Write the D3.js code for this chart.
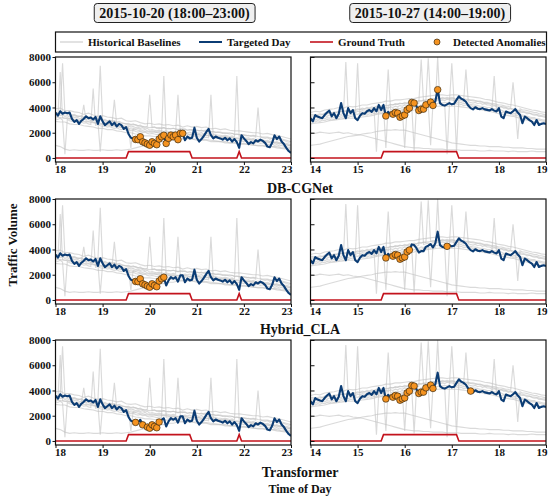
<!DOCTYPE html>
<html><head><meta charset="utf-8">
<script src="https://cdn.jsdelivr.net/npm/d3@7"></script>
<style>
body{margin:0;background:#fff}
svg text{font-family:"Liberation Serif","Times New Roman",serif;font-weight:bold;fill:#111}
</style>
</head><body>
<svg id="c" width="550" height="500"></svg>
<script>
// ---------------- DATA ----------------
const methods = ["DB-CGNet", "Hybrid_CLA", "Transformer"];
const dayTitles = ["2015-10-20 (18:00\u201323:00)", "2015-10-27 (14:00\u201319:00)"];
const leftHours = [18, 19, 20, 21, 22, 23];
const rightHours = [14, 15, 16, 17, 18, 19];
const yTicks = [0, 2000, 4000, 6000, 8000];
const legendLabels = ["Historical Baselines", "Targeted Day", "Ground Truth", "Detected Anomalies"];

// Targeted day, 3-minute samples (101 values over 5 hours)
const leftTarget = [
 3600,3350,3700,3500,3600,3550,3600,3100,2850,3000,
 2700,2950,3100,3300,3150,3200,3050,3250,2700,3300,
 2900,2600,2750,2900,2600,2800,2500,2700,2600,2300,
 2450,1900,1600,1550,1470,1450,1680,1280,1200,1100,
 1010,1280,1150,1050,1500,1680,1800,1150,1550,1810,
 1680,1810,1450,1950,1950,1400,1700,1550,1600,2400,
 1600,1300,1500,1750,2050,2300,1800,1550,1700,1600,
 1550,1450,1600,1400,1550,1300,1500,1250,800,1800,
 1550,1350,1100,1250,1150,1400,1300,1450,1350,1200,
 900,850,1200,1800,1500,1700,1300,1100,800,550,
 400];
const rightTarget = [
 3150,2900,3400,3280,3200,3150,3400,3600,3750,3300,
 3550,3150,3500,4350,3550,3150,3950,3550,3800,3150,
 3000,3350,3550,3500,3700,3800,3650,3950,3700,4200,
 3800,4200,3330,3650,3450,3470,3600,3550,3230,3330,
 3410,3810,3950,4400,4350,4100,3760,3870,3870,4210,
 4300,4430,4160,4500,5410,4350,4200,4150,4250,4350,
 4250,4300,4600,4880,4700,4600,4450,4150,3950,3850,
 4020,3900,3870,3950,3850,3810,3760,3870,3750,3680,
 3950,3280,3150,3680,3600,3550,3700,3870,3600,3410,
 2750,3280,3150,3000,2880,2610,3010,2610,2700,2750,
 2700];

// Ground truth: [hour, value] breakpoints
const leftTruth = [[18,0],[19.5,0],[19.55,500],[20.85,500],[20.9,0],[21.85,0],[21.9,500],[21.95,0],[23,0]];
const rightTruth = [[14,0],[15.5,0],[15.55,500],[17.1,500],[17.15,0],[19,0]];

// Detected anomalies: indices into the targeted-day samples, one list per method row
const leftDetected = [
 [34,35,36,37,38,39,40,41,42,43,44,45,46,47,48,49,50,51,52,53,54],
 [34,35,36,37,38,39,40,41,42,43,44,45,46],
 [34,37,39,40,41,42,43,44]
];
const rightDetected = [
 [32,35,36,37,38,39,40,41,42,43,44,46,47,48,49,51,52,54],
 [32,35,36,37,38,39,40,41,42,58],
 [32,35,36,37,38,39,40,41,42,43,44,46,47,48,49,51,52,68]
];

// Historical baselines: smooth ones at 6-minute samples (51 values),
// spiky ones at 3-minute samples (101 values)
const leftBaselines = [
 [3900,3950,3750,3750,3650,3600,3450,3550,3400,3300,
  3350,3250,3200,3100,3150,2950,2900,2950,2800,2700,
  2750,2650,2700,2600,2650,2550,2600,2450,2550,2450,
  2500,2400,2450,2300,2350,2250,2300,2200,2150,2150,
  2100,2050,2000,2000,1900,1950,1850,1800,1700,1600,1500],
 [3600,3500,3550,3400,3350,3300,3200,3250,3100,3050,
  3000,2900,2950,2800,2750,2700,2600,2650,2500,2450,
  2400,2450,2350,2400,2300,2350,2250,2300,2200,2250,
  2200,2150,2200,2100,2050,2050,1950,2000,1900,1850,
  1850,1750,1800,1700,1650,1650,1550,1600,1500,1400,1300],
 [3250,3200,3150,3100,3000,2950,2900,2850,2800,2700,
  2650,2600,2550,2500,2400,2350,2300,2250,2150,2100,
  2050,2050,2000,2000,1950,1950,1950,1900,1900,1850,
  1850,1800,1800,1750,1700,1650,1650,1600,1550,1500,
  1450,1450,1400,1350,1300,1250,1250,1200,1150,1050,950],
 [2900,2850,2850,2700,2650,2650,2550,2500,2450,2350,
  2350,2250,2250,2150,2100,2000,2000,1900,1850,1750,
  1750,1700,1700,1650,1650,1600,1600,1550,1550,1500,
  1500,1450,1450,1400,1350,1300,1300,1200,1200,1100,
  1150,1050,1050,950,950,900,900,800,750,700,600],
 [1000,900,700,600,650,600,600,650,600,600,
  650,600,600,650,600,650,700,800,900,1000,
  1100,1200,1300,1300,1400,1400,1500,1500,1500,1500,
  1400,1400,1400,1300,1300,1300,1200,1200,1200,1100,
  1100,1100,1000,1000,1000,900,900,900,800,800,700],
 [3600,3550,3650,7500,3500,3550,3450,3400,3450,3350,
  3300,3350,3250,3300,3200,3250,3150,3100,3150,7300,
  3000,3050,2950,3000,2900,2950,2850,2900,2800,2750,
  2700,2750,2650,2700,2600,2550,2600,2500,2450,2500,
  5000,2400,2450,2350,2400,2350,2400,2300,2350,2300,
  2350,2300,2250,2300,2250,2300,2200,2250,2200,2250,
  2200,2150,2200,2100,2150,2100,2050,2100,2000,2050,
  2000,1950,2000,1950,1900,1950,1850,1900,1850,1800,
  1800,1750,1800,1700,1750,1650,4000,1650,1600,1550,
  1600,1500,1550,1450,1500,1400,1350,1400,1300,1250,1300],
 [3100,3050,3150,3000,300,3050,2950,2900,2950,2850,
  2800,2850,2750,2800,2700,2650,5500,2600,2650,2550,
  2500,2550,2450,2500,2400,2350,2400,2300,2250,2300,
  2200,2250,2150,2200,2100,2050,2100,2000,2050,1950,
  1900,1950,1900,1850,1900,1850,6500,1850,1800,1850,
  1800,1850,1750,1800,1750,1800,1700,1750,1700,1750,
  1700,1650,1700,1600,1650,1600,5000,1600,1550,1550,
  1500,1550,1450,1500,1450,1400,1450,1350,1400,1350,
  1300,1350,1250,1300,1250,1200,1250,1150,1200,1100,
  1100,1050,1100,1000,1050,950,1000,900,900,850,800],
 [3400,3450,3350,3400,3300,3350,3250,3300,3200,3250,
  3150,3100,3150,3050,3100,3000,2950,3000,2900,500,
  2800,2850,2750,2800,2700,4600,2650,2700,2600,2550,
  2500,2550,2450,2500,2400,2450,2350,2400,2300,2350,
  2200,2250,2200,2150,2200,2150,2100,2150,2100,2050,
  2100,2050,5000,2050,2000,2050,2000,2050,1950,2000,
  2000,1950,2000,1900,1950,1900,1850,1900,1850,1800,
  1800,1750,1800,1750,1700,1750,1650,6500,1650,1600,
  1600,1550,1600,1500,1550,1450,1500,1400,1450,1350,
  1400,1300,1350,1250,1300,1200,1250,1150,1150,1100,1050],
 [3300,3250,6800,3200,3150,3200,3100,3150,3050,3100,
  3000,3050,4200,2950,2900,2950,2850,2800,2850,2750,
  2700,2750,2650,2700,2600,2550,2600,2500,2450,2500,
  2400,2450,800,2350,2300,2350,2250,2200,2250,2150,
  2100,2150,2100,2050,2100,2050,2000,2050,2000,1950,
  2000,1950,1900,1950,1900,1950,1900,1850,1900,1850,
  1900,1850,1800,1850,1800,1750,1800,1700,1750,1700,
  1700,1650,1700,1650,1600,1650,1550,1600,1550,1500,
  1500,1450,1500,1400,1450,1350,1400,1300,1350,1250,
  1300,1200,1250,1150,1200,1100,1150,1050,1050,1000,950]
];
const rightBaselines = [
 [3600,3700,3650,3800,3850,3900,4000,3950,4100,4050,
  4100,4200,4200,4300,4350,4400,4500,4500,4600,4600,
  4650,4700,4700,4800,4850,4900,4950,5000,5000,4950,
  5000,5000,4950,4900,4850,4800,4750,4650,4600,4500,
  4400,4350,4250,4200,4100,4000,3900,3800,3750,3650,3600],
 [3300,3350,3400,3450,3550,3600,3650,3700,3750,3750,
  3800,3850,3900,3950,4050,4100,4150,4200,4250,4300,
  4300,4350,4400,4500,4550,4600,4650,4700,4700,4700,
  4700,4700,4650,4600,4550,4500,4450,4350,4300,4200,
  4100,4050,3950,3900,3800,3700,3600,3500,3450,3350,3300],
 [2700,2750,2800,2850,2950,3000,3050,3100,3150,3150,
  3200,3250,3300,3350,3450,3500,3550,3600,3650,3700,
  3700,3750,3800,3900,3950,4000,4050,4100,4100,4100,
  4100,4100,4050,4000,3950,3900,3850,3750,3700,3600,
  3500,3450,3350,3300,3200,3100,3000,2900,2850,2750,2700],
 [1000,1050,1100,1200,1300,1400,1500,1600,1700,1750,
  1800,1900,1950,2000,2100,2150,2200,2200,2250,2200,
  2200,2100,2000,1900,1800,1700,1600,1500,1400,1300,
  1200,1150,1100,1050,1000,1000,950,950,900,900,
  900,850,850,800,800,800,750,750,700,700,700],
 [2000,1950,2050,2000,1950,2000,2050,1950,2000,1900,
  1850,1800,1700,1600,1500,1400,1300,1200,1100,1000,
  900,850,800,800,750,750,700,700,700,650,
  650,650,600,600,600,600,550,550,600,550,
  550,550,500,550,500,500,500,550,500,500,500],
 [3200,3150,3250,3200,3300,3250,3350,3300,3400,3350,
  3450,3400,3500,3450,3550,7600,3600,3550,3650,3600,
  3700,3650,3750,3700,3800,3750,3850,3800,500,3850,
  3950,3900,4000,3950,4050,4000,4100,4050,4150,4100,
  4200,4150,4250,4200,4300,4250,4350,7800,4400,4450,
  4500,4450,4550,4500,4600,4550,4600,4550,4650,4600,
  4600,4550,4600,4500,4550,4450,7000,4450,4400,4350,
  4400,4300,4350,4250,4300,4200,4200,4100,4150,4050,
  4000,4050,3950,3950,3850,3900,3800,3750,3750,3650,
  3600,3600,3500,3550,3450,3400,3400,3300,3300,3250,3200],
 [2900,2950,2850,2950,2900,3000,2950,3050,3000,3100,
  3050,3150,3100,3200,3150,3250,3200,3300,3250,3350,
  7500,3400,3350,3450,3400,3500,3450,3550,3500,3600,
  3550,3650,3600,3700,3650,3750,3700,3800,3750,3850,
  800,3900,3950,3900,4000,3950,4050,4000,4100,4050,
  4150,4100,4200,4150,8000,4200,4250,4200,300,4250,
  4300,4250,4300,4200,4250,4150,4200,4100,4150,4050,
  4100,4000,4000,3950,3900,3900,3800,3800,6500,3700,
  3700,3600,3650,3550,3500,3500,3400,3400,3350,3300,
  3300,3200,3250,3150,3100,3100,3000,3000,2950,2900,2900],
 [3400,3450,3350,3450,3500,3450,3550,3500,3600,3550,
  3650,3600,3700,3650,3750,3700,3800,3750,3850,3800,
  3900,3850,3950,3900,4000,3950,4050,4000,4100,4050,
  4150,4100,800,4150,4250,4200,4300,4250,4350,4300,
  4400,4350,4450,4400,4500,4450,4550,4500,4600,4550,
  7900,4650,4700,4650,4750,4700,4800,4750,4800,4750,
  4800,4750,500,4750,4700,4700,4650,4650,4600,4600,
  4550,4500,4500,4450,4400,4400,4350,4300,4300,4250,
  4200,4200,4150,4100,4100,4000,6000,3950,1500,3900,
  3800,3800,3750,3700,3650,3600,3600,3500,3500,3450,3400],
 [3000,3050,3000,3100,3050,3150,3100,3200,3150,3250,
  3200,3300,3250,3350,3300,3400,3350,3450,3400,3500,
  3450,3550,3500,3600,3550,3650,3600,3700,3650,3750,
  3700,3800,3750,7000,3800,3900,3850,3950,3900,4000,
  3950,4050,4000,4100,600,4150,4100,4200,4150,4250,
  4250,1000,4300,4350,4300,4400,4350,4400,4350,4450,
  7500,4400,4450,4350,4400,4300,4350,4250,4250,4200,
  4200,4150,4100,4100,4050,4000,4000,3950,3900,3850,
  3800,3800,3700,3700,3650,3600,3550,3500,3500,3400,
  3400,3350,3300,3250,3200,3200,3100,3100,3050,3000,3000]
];

// ---------------- DRAW ----------------
const C = {base:"#c2c2c2", navy:"#0b3c74", red:"#c3131d", dot:"#f59320", dotStroke:"#3b2a10"};
const svg = d3.select("#c");
const colX = [55.5, 310.5], pw = 235.5;
const rowY = [57, 199, 340], ph = 105;
const days = [
  {hours:leftHours, target:leftTarget, truth:leftTruth, base:leftBaselines, det:leftDetected},
  {hours:rightHours, target:rightTarget, truth:rightTruth, base:rightBaselines, det:rightDetected}
];
const defs = svg.append("defs");

function styleTicks(sel) {
  sel.select(".domain").remove();
  sel.selectAll("text").attr("font-size",11).style("font-family","'Liberation Serif',serif").style("font-weight","bold");
  sel.selectAll("line").attr("stroke","#111");
}

methods.forEach((m, r) => {
  days.forEach((d, c) => {
    const x = d3.scaleLinear().domain([d.hours[0], d.hours[d.hours.length-1]]).range([colX[c], colX[c]+pw]);
    const y = d3.scaleLinear().domain([-320, 8000]).range([rowY[r]+ph, rowY[r]]);
    const id = "clip"+r+c;
    defs.append("clipPath").attr("id", id).append("rect")
      .attr("x", colX[c]).attr("y", rowY[r]).attr("width", pw).attr("height", ph);
    const g = svg.append("g");
    const inner = g.append("g").attr("clip-path", `url(#${id})`);
    const tT = d3.scaleLinear().domain([0, d.target.length-1]).range(x.domain());
    inner.selectAll("path.b").data(d.base).join("path").attr("class","b")
      .attr("d", arr => {
        const tb = d3.scaleLinear().domain([0, arr.length-1]).range(x.domain());
        return d3.line().x((v,i)=>x(tb(i))).y(v=>y(v))(arr);
      })
      .attr("fill","none").attr("stroke",C.base).attr("stroke-width",1.15).attr("stroke-opacity",0.6);
    inner.append("path").datum(d.truth)
      .attr("d", d3.line().x(p=>x(p[0])).y(p=>y(p[1])))
      .attr("fill","none").attr("stroke",C.red).attr("stroke-width",1.6);
    inner.append("path").datum(d.target)
      .attr("d", d3.line().x((v,i)=>x(tT(i))).y(v=>y(v)))
      .attr("fill","none").attr("stroke",C.navy).attr("stroke-width",2.1).attr("stroke-linejoin","round");
    g.selectAll("circle").data(d.det[r]).join("circle")
      .attr("cx", i=>x(tT(i))).attr("cy", i=>y(d.target[i])).attr("r",3.3)
      .attr("fill",C.dot).attr("stroke",C.dotStroke).attr("stroke-width",0.7);
    g.append("rect").attr("x",colX[c]).attr("y",rowY[r]).attr("width",pw).attr("height",ph)
      .attr("fill","none").attr("stroke","#111").attr("stroke-width",1.2);
    // x axis
    const xa = g.append("g").attr("transform",`translate(0,${rowY[r]+ph})`)
      .call(d3.axisBottom(x).tickValues(d.hours).tickFormat(d3.format("d")).tickSize(3).tickPadding(0.5));
    styleTicks(xa);
    const h0 = d.hours[0], h1 = d.hours[d.hours.length-1];
    xa.selectAll(".tick text")
      .attr("text-anchor", v => v === h0 ? "start" : v === h1 ? "end" : "middle")
      .attr("x", v => v === h0 ? -1 : v === h1 ? 1 : 0);
    // y axis
    const ya = g.append("g").attr("transform",`translate(${colX[c]},0)`);
    if (c === 0) {
      ya.call(d3.axisLeft(y).tickValues(yTicks).tickFormat(d3.format("d")).tickSize(3).tickPadding(1.5));
    } else {
      ya.call(d3.axisRight(y).tickValues(yTicks).tickFormat("").tickSize(4));
    }
    styleTicks(ya);
  });
  // method label under each row
  svg.append("text").attr("x",300).attr("y", r < 2 ? rowY[r+1]-11 : 472)
    .attr("dy","0.35em").attr("text-anchor","middle").attr("font-size",14).text(m);
});

// Column headers
const headerCx = [174.5, 430];
dayTitles.forEach((t, c) => {
  const gt = svg.append("g");
  const txt = gt.append("text").attr("x",headerCx[c]).attr("y",13).attr("dy","0.35em")
    .attr("text-anchor","middle").attr("font-size",14).text(t);
  const bb = txt.node().getBBox();
  gt.insert("rect","text").attr("x",bb.x-5).attr("y",3.5).attr("width",bb.width+10).attr("height",19)
    .attr("rx",3).attr("fill","#efefef").attr("stroke","#222").attr("stroke-width",1);
});

// Legend
const lg = svg.append("g");
lg.append("rect").attr("x",55.5).attr("y",32).attr("width",491).attr("height",20)
  .attr("fill","#fff").attr("stroke","#111").attr("stroke-width",1.2);
const ly = 42;
const legendItems = [
  {x:60, kind:"line", color:"#cfcfcf", w:1.2},
  {x:199, kind:"line", color:C.navy, w:2},
  {x:310, kind:"line", color:C.red, w:1.6},
  {x:437, kind:"dot"}
];
legendItems.forEach((it, i) => {
  if (it.kind === "line") {
    lg.append("line").attr("x1",it.x).attr("x2",it.x+23).attr("y1",ly).attr("y2",ly)
      .attr("stroke",it.color).attr("stroke-width",it.w);
    lg.append("text").attr("x",it.x+28).attr("y",ly).attr("dy","0.35em").attr("font-size",11).text(legendLabels[i]);
  } else {
    lg.append("circle").attr("cx",it.x).attr("cy",ly).attr("r",3)
      .attr("fill",C.dot).attr("stroke",C.dotStroke).attr("stroke-width",0.7);
    lg.append("text").attr("x",it.x+16).attr("y",ly).attr("dy","0.35em").attr("font-size",11).text(legendLabels[i]);
  }
});

// Axis titles
svg.append("text").attr("transform","translate(12,245) rotate(-90)").attr("dy","0.35em")
  .attr("text-anchor","middle").attr("font-size",13).text("Traffic Volume");
svg.append("text").attr("x",300).attr("y",489).attr("dy","0.35em")
  .attr("text-anchor","middle").attr("font-size",12).text("Time of Day");
</script>
</body></html>
